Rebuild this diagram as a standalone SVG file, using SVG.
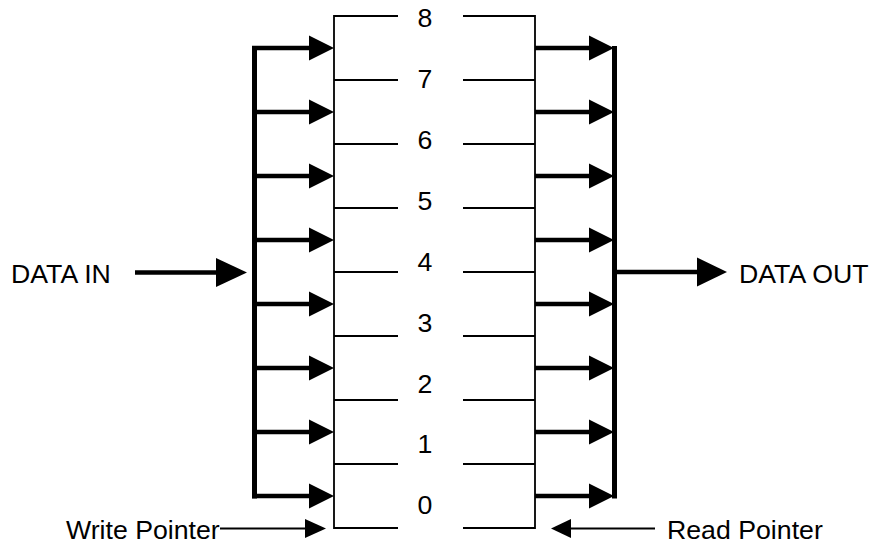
<svg xmlns="http://www.w3.org/2000/svg" width="878" height="547" viewBox="0 0 878 547">
<defs>
<style>
text{font-family:"Liberation Sans",Arial,sans-serif;font-size:26.7px;fill:#000}
.lbl{text-anchor:middle}
.thin{stroke:#000;stroke-width:1.8;fill:none}
.bus{stroke:#000;stroke-width:5;fill:none}
.thick{stroke:#000;stroke-width:4.5;fill:none}
.head{fill:#000;stroke:none}
</style>
</defs>
<rect width="878" height="547" fill="#fff"/>
<g id="fifo">
<path class="thin" d="M398,16H334V528H398M463,16H535V528H463"/>
<path class="thin" d="M334,80H398M463,80H535M334,144H398M463,144H535M334,208H398M463,208H535M334,272H398M463,272H535M334,336H398M463,336H535M334,400H398M463,400H535M334,464H398M463,464H535"/>
<text class="lbl" x="425" y="27">8</text>
<text class="lbl" x="425" y="88">7</text>
<text class="lbl" x="425" y="149">6</text>
<text class="lbl" x="425" y="210">5</text>
<text class="lbl" x="425" y="271">4</text>
<text class="lbl" x="425" y="332">3</text>
<text class="lbl" x="425" y="393">2</text>
<text class="lbl" x="425" y="453">1</text>
<text class="lbl" x="425" y="514">0</text>
</g>
<g id="data-in">
<text x="11" y="283">DATA IN</text>
</g>
<g id="data-out">
<text x="739" y="283">DATA OUT</text>
</g>
<g id="write-pointer">
<text x="66" y="539">Write Pointer</text>
</g>
<g id="read-pointer">
<text x="667" y="539">Read Pointer</text>
</g>
<g id="connectors">
<path class="bus" d="M254.5,46V498.5M614.5,46V498.5"/>
<path class="thick" d="M252,48H310M252,112H310M252,176H310M252,240H310M252,304H310M252,368H310M252,432H310M252,496H310"/>
<path class="head" d="M309,35.5L334,48L309,60.5ZM309,99.5L334,112L309,124.5ZM309,163.5L334,176L309,188.5ZM309,227.5L334,240L309,252.5ZM309,291.5L334,304L309,316.5ZM309,355.5L334,368L309,380.5ZM309,419.5L334,432L309,444.5ZM309,483.5L334,496L309,508.5Z"/>
<path class="thick" d="M535,48H590M535,112H590M535,176H590M535,240H590M535,304H590M535,368H590M535,432H590M535,496H590"/>
<path class="head" d="M589,35.5L614,48L589,60.5ZM589,99.5L614,112L589,124.5ZM589,163.5L614,176L589,188.5ZM589,227.5L614,240L589,252.5ZM589,291.5L614,304L589,316.5ZM589,355.5L614,368L589,380.5ZM589,419.5L614,432L589,444.5ZM589,483.5L614,496L589,508.5Z"/>
<path class="thick" d="M135,272.5H217"/>
<path class="head" d="M216,258L247,272.5L216,287Z"/>
<path class="thick" d="M614,272H698"/>
<path class="head" d="M697,257.5L727,272L697,286.5Z"/>
<path class="thin" d="M220,528.5H306"/>
<path class="head" d="M305,519L326,528.5L305,538Z"/>
<path class="thin" d="M655,528.5H570"/>
<path class="head" d="M571,519L551,528.5L571,538Z"/>
</g>
</svg>
